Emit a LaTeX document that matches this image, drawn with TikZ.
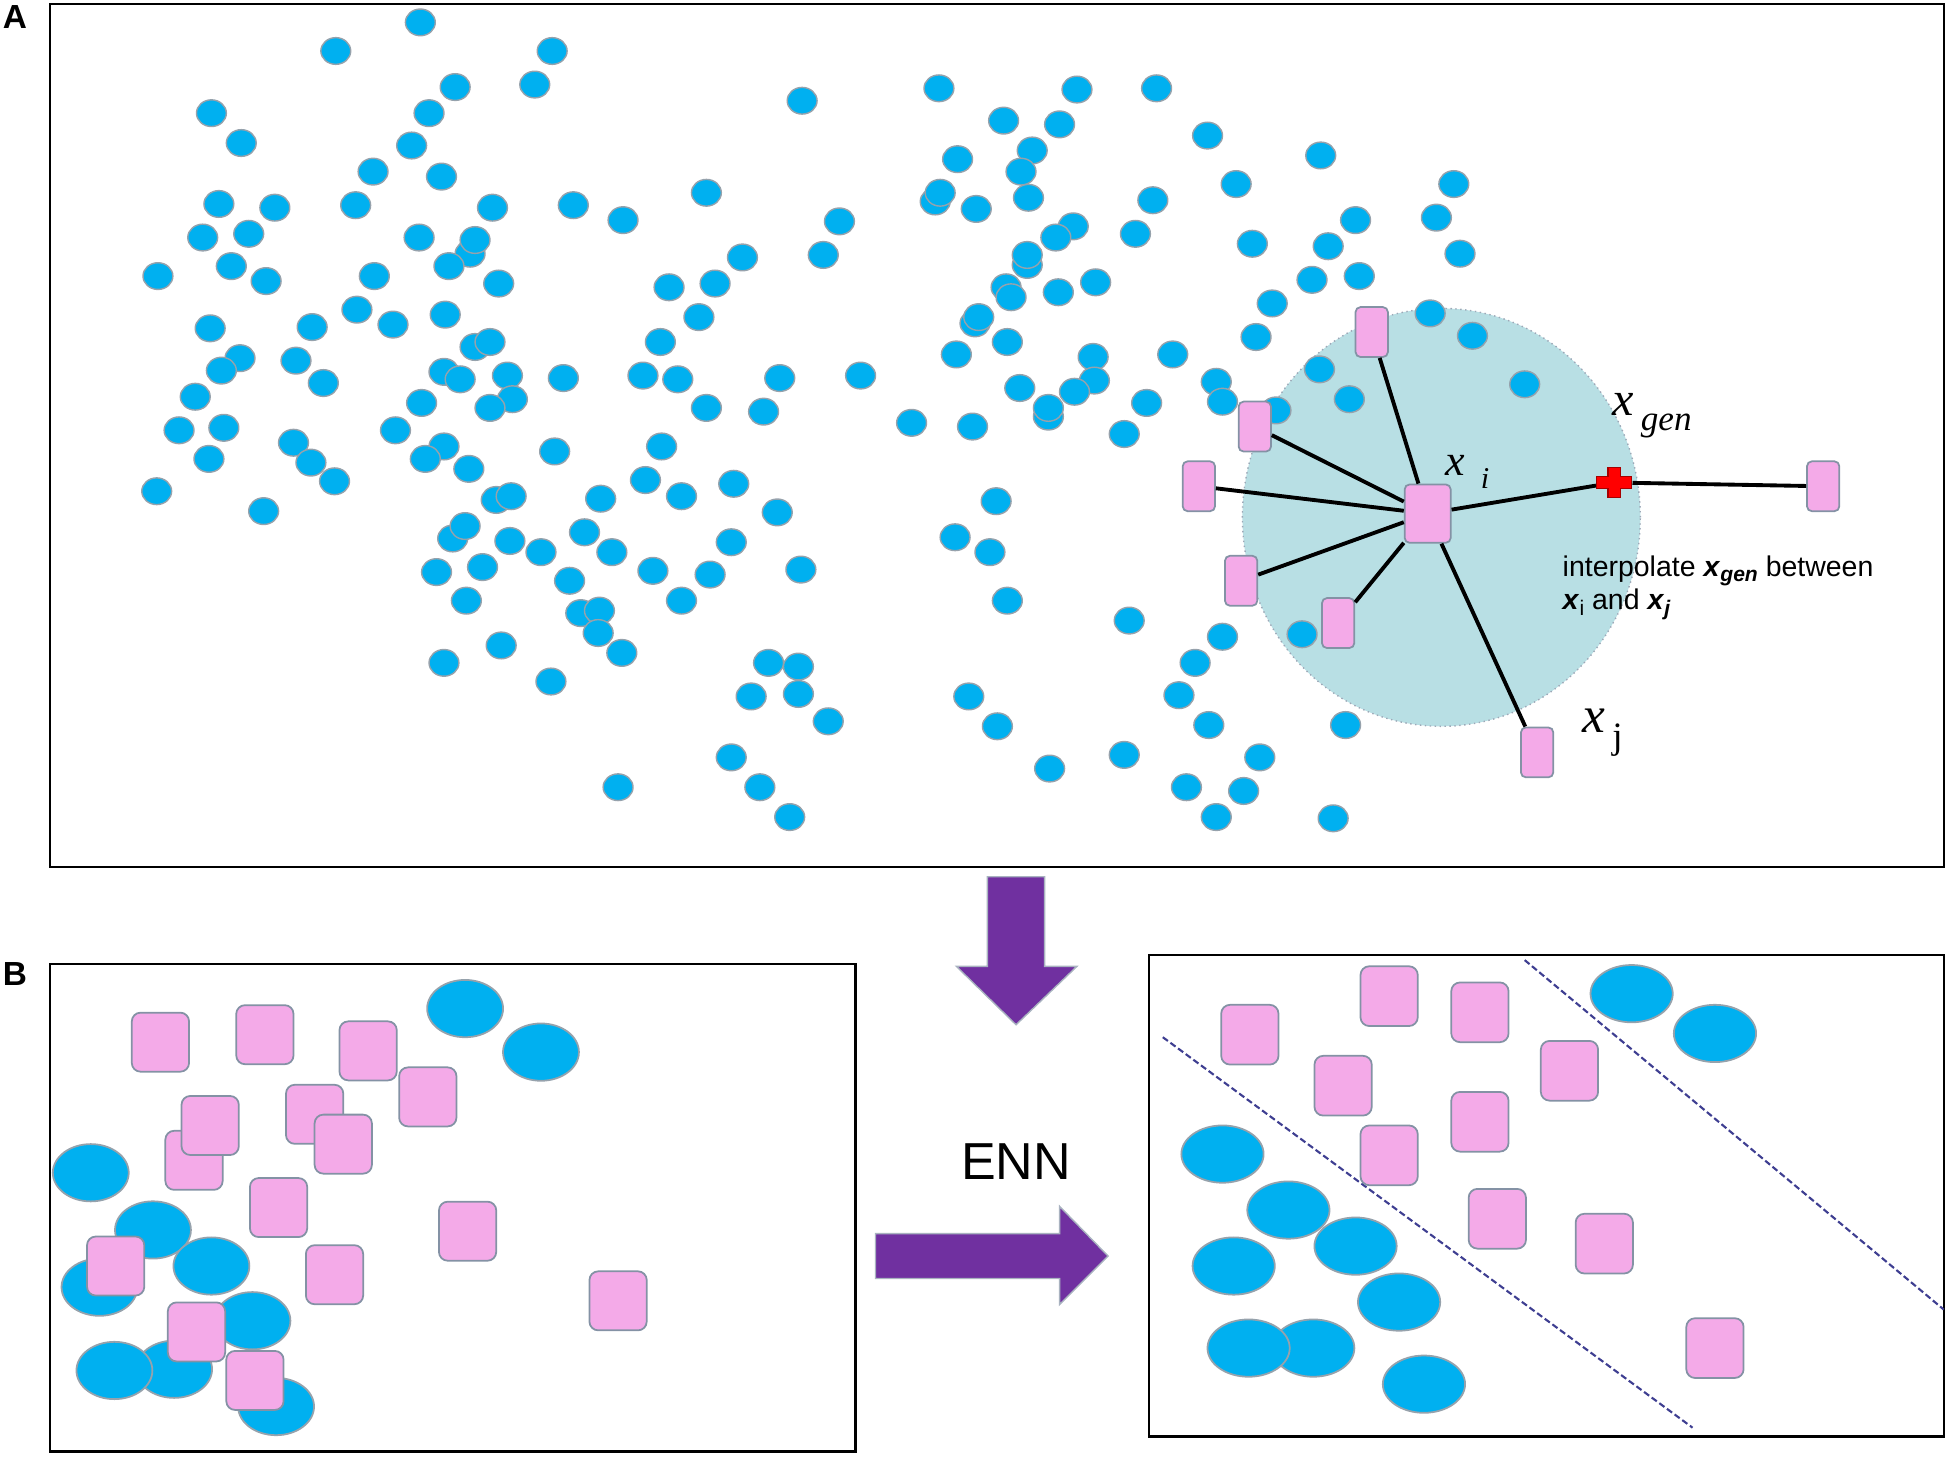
\documentclass[tikz,border=0pt]{standalone}
\usepackage{fontspec}
\setmainfont{Liberation Serif}
\newfontfamily\arial{Liberation Sans}
\usetikzlibrary{
  shapes.geometric
}
\definecolor{dotblue}{RGB}{0,176,240}
\definecolor{dotrim}{RGB}{150,162,172}
\definecolor{pinkbox}{RGB}{244,170,232}
\definecolor{boxrim}{RGB}{132,146,165}
\definecolor{nbhood}{RGB}{184,223,228}
\definecolor{ennpurple}{RGB}{112,48,160}
\definecolor{bound}{RGB}{62,62,145}
\newcommand{\lowsub}[1]{\raisebox{-0.35ex}{\fontsize{6}{6}\selectfont #1}}
\tikzset{
  panel/.style={draw=black, line width=0.7pt},
  dot/.style={ellipse, draw=dotrim, fill=dotblue, line width=0.4pt,
    minimum width=8.5pt, minimum height=7.6pt, inner sep=0pt},
  sample/.style={rectangle, rounded corners=1.4pt, draw=boxrim, fill=pinkbox,
    line width=0.5pt, minimum width=9.2pt, minimum height=14.2pt, inner sep=0pt},
  center sample/.style={sample, minimum width=13.1pt, minimum height=16.6pt},
  hood/.style={ellipse, fill=nbhood, draw=boxrim!80, densely dotted, line width=0.4pt,
    minimum width=113.2pt, minimum height=118.9pt, inner sep=0pt},
  link/.style={draw=black, line width=1.1pt},
  blob/.style={ellipse, draw=dotrim, fill=dotblue, line width=0.5pt,
    minimum width=21.6pt, minimum height=16.3pt, inner sep=0pt},
  wide blob/.style={blob, minimum width=23.4pt},
  big sample/.style={rectangle, rounded corners=2.5pt, draw=boxrim, fill=pinkbox,
    line width=0.5pt, minimum width=16.3pt, minimum height=16.8pt, inner sep=0pt},
  block arrow/.style={fill=ennpurple, draw=boxrim!70, line width=0.4pt},
  boundary/.style={draw=bound, line width=0.6pt, dash pattern=on 1.8pt off 0.9pt},
  panel label/.style={font=\arial\bfseries\fontsize{9.5}{10}\selectfont, inner sep=0pt}
}

\begin{document}
\begin{tikzpicture}[x=0.012436cm, y=-0.012436cm]
  \useasboundingbox (0,0) rectangle (1568,1172);

  % panel A
  \node[panel label] (lblA) at (12,14) {A};
  \draw[panel] (40,3) rectangle (1563,697);
  \node[hood] (hood) at (1159,416) {};

  \foreach \x/\y [count=\k] in {
    338/18, 270/41, 444/41, 366/70, 430/68, 170/91, 345/91, 194/115, 331/117,
    300/138, 355/142, 176/164, 221/167, 286/165, 396/167, 461/165, 501/177,
    163/191, 200/188, 337/191, 378/204, 382/193, 361/214, 127/222, 186/214,
    214/226, 301/222, 401/228, 287/249, 316/261, 358/253, 169/264, 251/263,
    531/275, 382/279, 394/275, 193/288, 178/298, 238/290, 260/308, 357/299,
    370/305, 408/302, 453/304, 517/302, 545/305, 412/321, 394/328, 157/319,
    339/324, 144/346, 180/344, 236/356, 318/346, 168/369, 250/372, 269/387,
    126/395, 212/411, 357/359, 342/369, 377/377, 399/402, 411/399, 446/363,
    532/359, 519/386, 548/399, 590/389, 483/401, 364/433, 374/423, 410/435,
    435/444, 470/428, 492/444, 588/436, 351/460, 388/456, 458/467, 525/459,
    571/462, 375/483, 548/483, 467/493, 482/491, 481/509, 500/525, 403/519,
    357/533, 443/548, 497/633,
    538/231, 575/228, 562/255, 568/155, 597/207, 662/205, 675/178, 645/81,
    755/71, 866/72, 930/71, 807/97, 852/100, 971/109, 830/121, 770/128,
    821/138, 994/148, 752/162, 756/155, 785/168, 827/159, 927/161, 863/182,
    849/191, 913/188, 1007/196, 826/213, 826/205, 881/227, 851/235, 809/231,
    813/239, 1023/244, 784/260, 787/255, 810/275, 1010/271, 879/287, 880/306,
    769/285, 943/285, 627/304, 692/302, 820/312, 864/315, 978/307, 983/323,
    922/324, 568/328, 614/331, 733/340, 782/343, 843/335, 843/328, 904/349,
    1026/330,
    1062/125, 1169/148, 1090/177, 1155/175, 1068/198, 1174/204, 1055/225,
    1093/222, 1150/252, 1184/270, 1061/297, 1085/321, 1226/309,
    625/412, 644/458, 801/403, 768/432, 796/444, 810/483, 908/499, 983/512,
    1047/510, 961/533, 948/559, 972/583, 1082/583, 904/607, 1013/609,
    954/633, 1000/636, 978/657, 1072/658, 844/618, 779/560, 802/584,
    618/533, 642/536, 604/560, 642/558, 666/580, 588/609, 611/633, 635/657}
    \node[dot] (d\k) at (\x,\y) {};

  \node[center sample] (xi) at (1148,413) {};
  \node[sample] (nb1) at (1103,267) {};
  \node[sample] (nb2) at (1009,343) {};
  \node[sample] (nb3) at (964,391) {};
  \node[sample] (nb4) at (998,467) {};
  \node[sample] (nb5) at (1076,501) {};
  \node[sample] (xj) at (1236,605) {};
  \node[sample] (far) at (1466,391) {};
  \node[minimum width=10pt, minimum height=8.5pt, inner sep=0pt] (xgen) at (1298,388) {};

  \foreach \n in {nb1,nb2,nb3,nb4,nb5,xj}
    \draw[link] (xi) -- (\n);
  \draw[link] (xi) -- (xgen) -- (far);
  \fill[fill=red, draw=red!65!black, line width=0.3pt] (xgen.center) ++(-14,-4.5)
    -- ++(9,0) -- ++(0,-7.5) -- ++(10,0) -- ++(0,7.5) -- ++(9,0) -- ++(0,9)
    -- ++(-9,0) -- ++(0,7.5) -- ++(-10,0) -- ++(0,-7.5) -- ++(-9,0) -- cycle;

  \node[anchor=base west, inner sep=0pt, font=\fontsize{12.5}{13}\selectfont] (lxi) at (1162,382)
    {\textit{x}\hspace{4.4pt}\raisebox{-3.7pt}{\fontsize{8.6}{9}\selectfont\textit{i}}};
  \node[anchor=base west, inner sep=0pt, font=\fontsize{13.7}{14}\selectfont] (lxgen) at (1296,334)
    {\textit{x}\hspace{2pt}\raisebox{-4.3pt}{\fontsize{10}{10}\selectfont\textit{gen}}};
  \node[anchor=base west, inner sep=0pt, font=\fontsize{14.6}{15}\selectfont] (lxj) at (1272,589)
    {\textit{x}\hspace{2pt}\raisebox{-4.6pt}{\fontsize{10.6}{11}\selectfont j}};
  \node[anchor=north west, inner sep=0pt, align=left, font=\arial\fontsize{8.1}{9.6}\selectfont] (note) at (1256,446)
    {interpolate \textbf{\textit{x}}\lowsub{\textbf{\textit{gen}}} between\\
     \textbf{\textit{x}}\lowsub{i} and \textbf{\textit{x}}\lowsub{\textbf{\textit{j}}}};

  % arrows between panels
  \fill[block arrow] (794,705) -- (840,705) -- (840,777) -- (866,777) -- (817,824)
    -- (769,777) -- (794,777) -- cycle;
  \node[font=\arial\fontsize{14.8}{15}\selectfont, inner sep=0pt] (enn) at (817,934) {ENN};
  \fill[block arrow] (704,992) -- (852,992) -- (852,970) -- (891,1010) -- (852,1049)
    -- (852,1028) -- (704,1028) -- cycle;

  % panel B, before
  \node[panel label] (lblB) at (12,783) {B};
  \draw[panel] (40,775) rectangle (688,1167);
  \foreach \x/\y [count=\k] in {374/811, 435/846, 73/943, 123/989, 170/1018,
    80/1035, 203/1062, 140/1101, 92/1102, 222/1131}
    \node[blob] (c\k) at (\x,\y) {};
  \foreach \x/\y [count=\k] in {129/838, 213/832, 296/845, 344/882, 156/933,
    169/905, 253/896, 276/920, 224/971, 376/990, 269/1025, 93/1018,
    158/1071, 205/1110, 497/1046}
    \node[big sample] (p\k) at (\x,\y) {};

  % panel B, after
  \draw[panel] (924,768) rectangle (1563,1155);
  \coordinate (b1s) at (935,834);
  \coordinate (b1e) at (1361,1148);
  \coordinate (b2s) at (1226,772);
  \coordinate (b2e) at (1563,1053);
  \draw[boundary] (b1s) -- (b1e);
  \draw[boundary] (b2s) -- (b2e);
  \foreach \x/\y [count=\k] in {1312/799, 1379/831, 983/928, 1036/973,
    1090/1002, 992/1018, 1125/1047, 1056/1084, 1004/1084, 1145/1113}
    \node[wide blob] (e\k) at (\x,\y) {};
  \foreach \x/\y [count=\k] in {1005/832, 1117/801, 1190/814, 1080/873,
    1262/861, 1190/902, 1117/929, 1204/980, 1290/1000, 1379/1084}
    \node[big sample, minimum height=17pt] (q\k) at (\x,\y) {};
\end{tikzpicture}
\end{document}
